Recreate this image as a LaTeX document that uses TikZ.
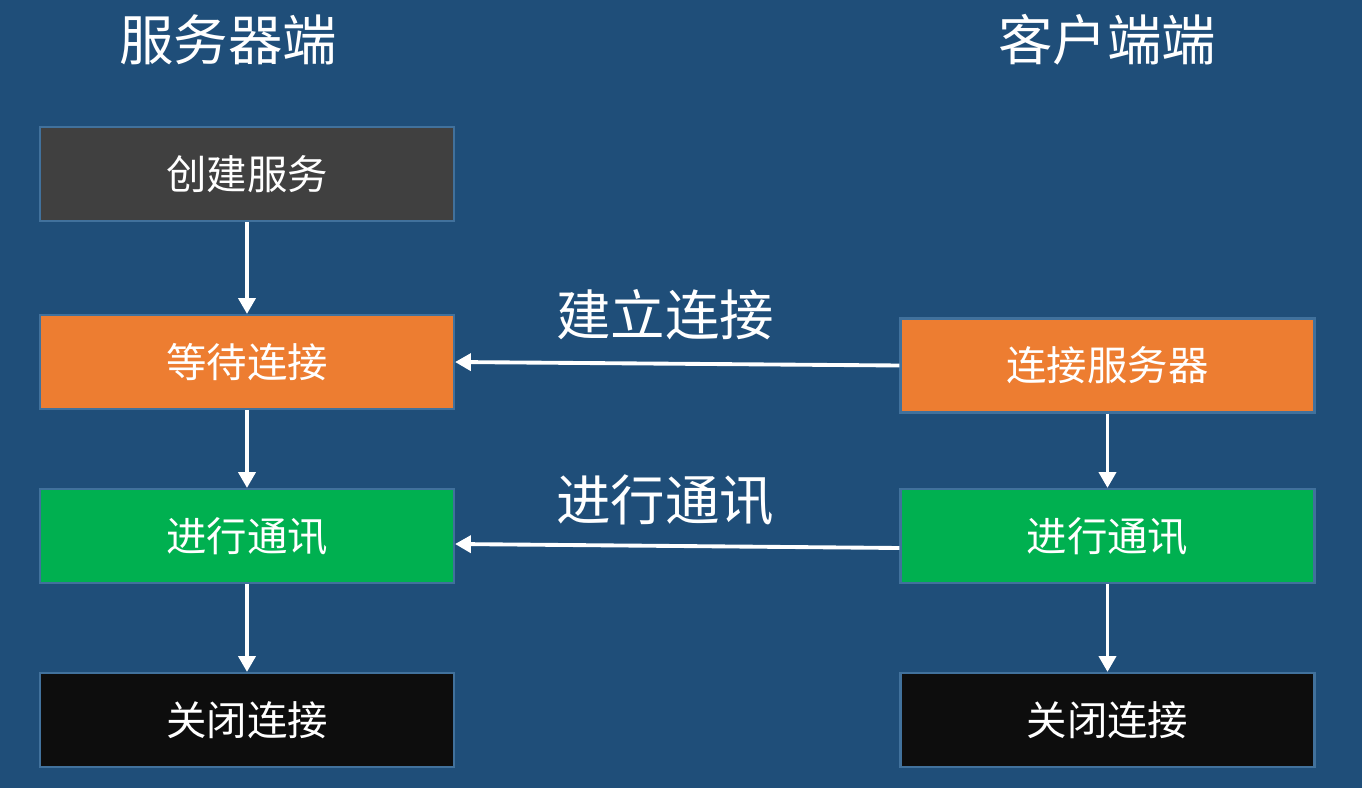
\documentclass[tikz,border=0pt]{standalone}
\usepackage{fontspec}
\usepackage{xcolor}
\usepackage{tikz}
\usetikzlibrary{calc,positioning,arrows.meta}
\newfontfamily\cjk{Noto Sans CJK SC}
\definecolor{SlideBlue}{HTML}{1F4E79}
\definecolor{BoxEdge}{HTML}{41719C}
\definecolor{CreateGray}{HTML}{404040}
\definecolor{WaitOrange}{HTML}{ED7D31}
\definecolor{TalkGreen}{HTML}{00B050}
\definecolor{CloseBlack}{HTML}{0D0D0D}

\tikzset{
  stagebox/.style={draw=BoxEdge,line width=0.6pt,minimum width=4.14cm,minimum height=0.94cm,
    inner sep=0pt,text=white,font=\cjk\fontsize{11.5}{13}\selectfont},
  sidetitle/.style={text=white,font=\cjk\fontsize{15.5}{17}\selectfont},
  flow/.style={draw=white,line width=1.1pt,-{Triangle[width=4.8pt,length=4.5pt]}}
}

\begin{document}
\begin{tikzpicture}
  \fill[SlideBlue] (0,0) rectangle (13.62,-7.88);
  \useasboundingbox (0,0) rectangle (13.62,-7.88);

  % column titles
  \node[sidetitle] (srvtitle) at (2.28,-0.40) {服务器端};
  \node[sidetitle] (clititle) at (11.07,-0.40) {客户端端};

  % server side
  \node[stagebox,fill=CreateGray] (create) at (2.47,-1.74) {创建服务};
  \node[stagebox,fill=WaitOrange] (wait) at (2.47,-3.62) {等待连接};
  \node[stagebox,fill=TalkGreen] (srvtalk) at (2.47,-5.36) {进行通讯};
  \node[stagebox,fill=CloseBlack] (srvclose) at (2.47,-7.20) {关闭连接};

  % client side
  \node[stagebox,fill=WaitOrange] (connect) at (11.075,-3.655) {连接服务器};
  \node[stagebox,fill=TalkGreen] (clitalk) at (11.075,-5.36) {进行通讯};
  \node[stagebox,fill=CloseBlack] (cliclose) at (11.075,-7.20) {关闭连接};

  \draw[flow] (create) -- (wait);
  \draw[flow] (wait) -- (srvtalk);
  \draw[flow] (srvtalk) -- (srvclose);
  \draw[flow] (connect) -- (clitalk);
  \draw[flow] (clitalk) -- (cliclose);

  % between the two sides
  \draw[flow] (connect.west) -- (wait.east);
  \draw[flow] ($(clitalk.west)+(0,-0.12)$) -- ($(srvtalk.east)+(0,-0.08)$);
  \node[sidetitle] (linklabel) at (6.65,-3.15) {建立连接};
  \node[sidetitle] (talklabel) at (6.65,-5.00) {进行通讯};
\end{tikzpicture}
\end{document}
